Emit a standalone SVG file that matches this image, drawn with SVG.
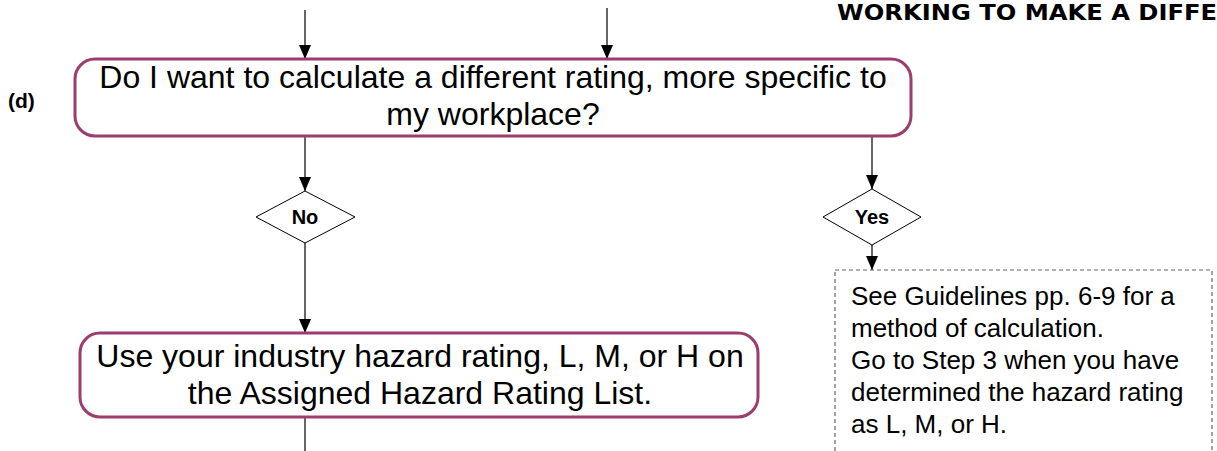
<svg xmlns="http://www.w3.org/2000/svg" width="1217" height="451" viewBox="0 0 1217 451">
<defs>
<marker id="arr" markerWidth="14" markerHeight="12" refX="14" refY="6" orient="auto" markerUnits="userSpaceOnUse" viewBox="0 0 14 12">
<path d="M0,0 L14,6 L0,12 Z" fill="#000"/>
</marker>
<style>
.term{fill:#fff;stroke:#9C3D6E;stroke-width:3}
.dec{fill:#fff;stroke:#000;stroke-width:1}
.note{fill:#fff;stroke:#666;stroke-width:1.2;stroke-dasharray:4 3}
.con{stroke:#000;stroke-width:1.2;fill:none}
.big{font-family:"Liberation Sans",Arial,sans-serif;font-size:32px;fill:#000;text-anchor:middle}
.lbl{font-family:"Liberation Sans",Arial,sans-serif;font-size:20px;font-weight:bold;fill:#000;text-anchor:middle}
.body{font-family:"Liberation Sans",Arial,sans-serif;font-size:26px;fill:#000}
</style>
</defs>
<rect width="1217" height="451" fill="#fff"/>
<text x="837" y="20" font-family="'DejaVu Sans',sans-serif" font-weight="bold" font-size="22" textLength="380" lengthAdjust="spacingAndGlyphs">WORKING TO MAKE A DIFFE</text>
<text x="8" y="108" font-family="'Liberation Sans',Arial,sans-serif" font-weight="bold" font-size="21">(d)</text>
<g id="connectors">
<line class="con" x1="305" y1="10" x2="305" y2="59" marker-end="url(#arr)"/>
<line class="con" x1="607" y1="8" x2="607" y2="59" marker-end="url(#arr)"/>
<line class="con" x1="305" y1="137" x2="305" y2="191" marker-end="url(#arr)"/>
<line class="con" x1="872" y1="137" x2="872" y2="189" marker-end="url(#arr)"/>
<line class="con" x1="305" y1="243" x2="305" y2="333" marker-end="url(#arr)"/>
<line class="con" x1="872" y1="245" x2="872" y2="270" marker-end="url(#arr)"/>
<line class="con" x1="305" y1="418" x2="305" y2="451"/>
</g>
<g id="q">
<rect class="term" x="75" y="59" width="836" height="77" rx="20"/>
<text class="big" x="493" y="88">Do I want to calculate a different rating, more specific to</text>
<text class="big" x="493" y="125">my workplace?</text>
</g>
<g id="no">
<polygon class="dec" points="305,191 355,217 305,243 256,217"/>
<text class="lbl" x="305" y="224">No</text>
</g>
<g id="yes">
<polygon class="dec" points="872,189 921,217 872,245 823,217"/>
<text class="lbl" x="872" y="224">Yes</text>
</g>
<g id="use">
<rect class="term" x="80" y="333" width="678" height="84" rx="20"/>
<text class="big" x="420" y="367">Use your industry hazard rating, L, M, or H on</text>
<text class="big" x="420" y="404">the Assigned Hazard Rating List.</text>
</g>
<g id="guide">
<rect class="note" x="835" y="270" width="377" height="200"/>
<text class="body" x="851" y="305">See Guidelines pp. 6-9 for a</text>
<text class="body" x="851" y="337">method of calculation.</text>
<text class="body" x="851" y="369">Go to Step 3 when you have</text>
<text class="body" x="851" y="401">determined the hazard rating</text>
<text class="body" x="851" y="433">as L, M, or H.</text>
</g>
</svg>
